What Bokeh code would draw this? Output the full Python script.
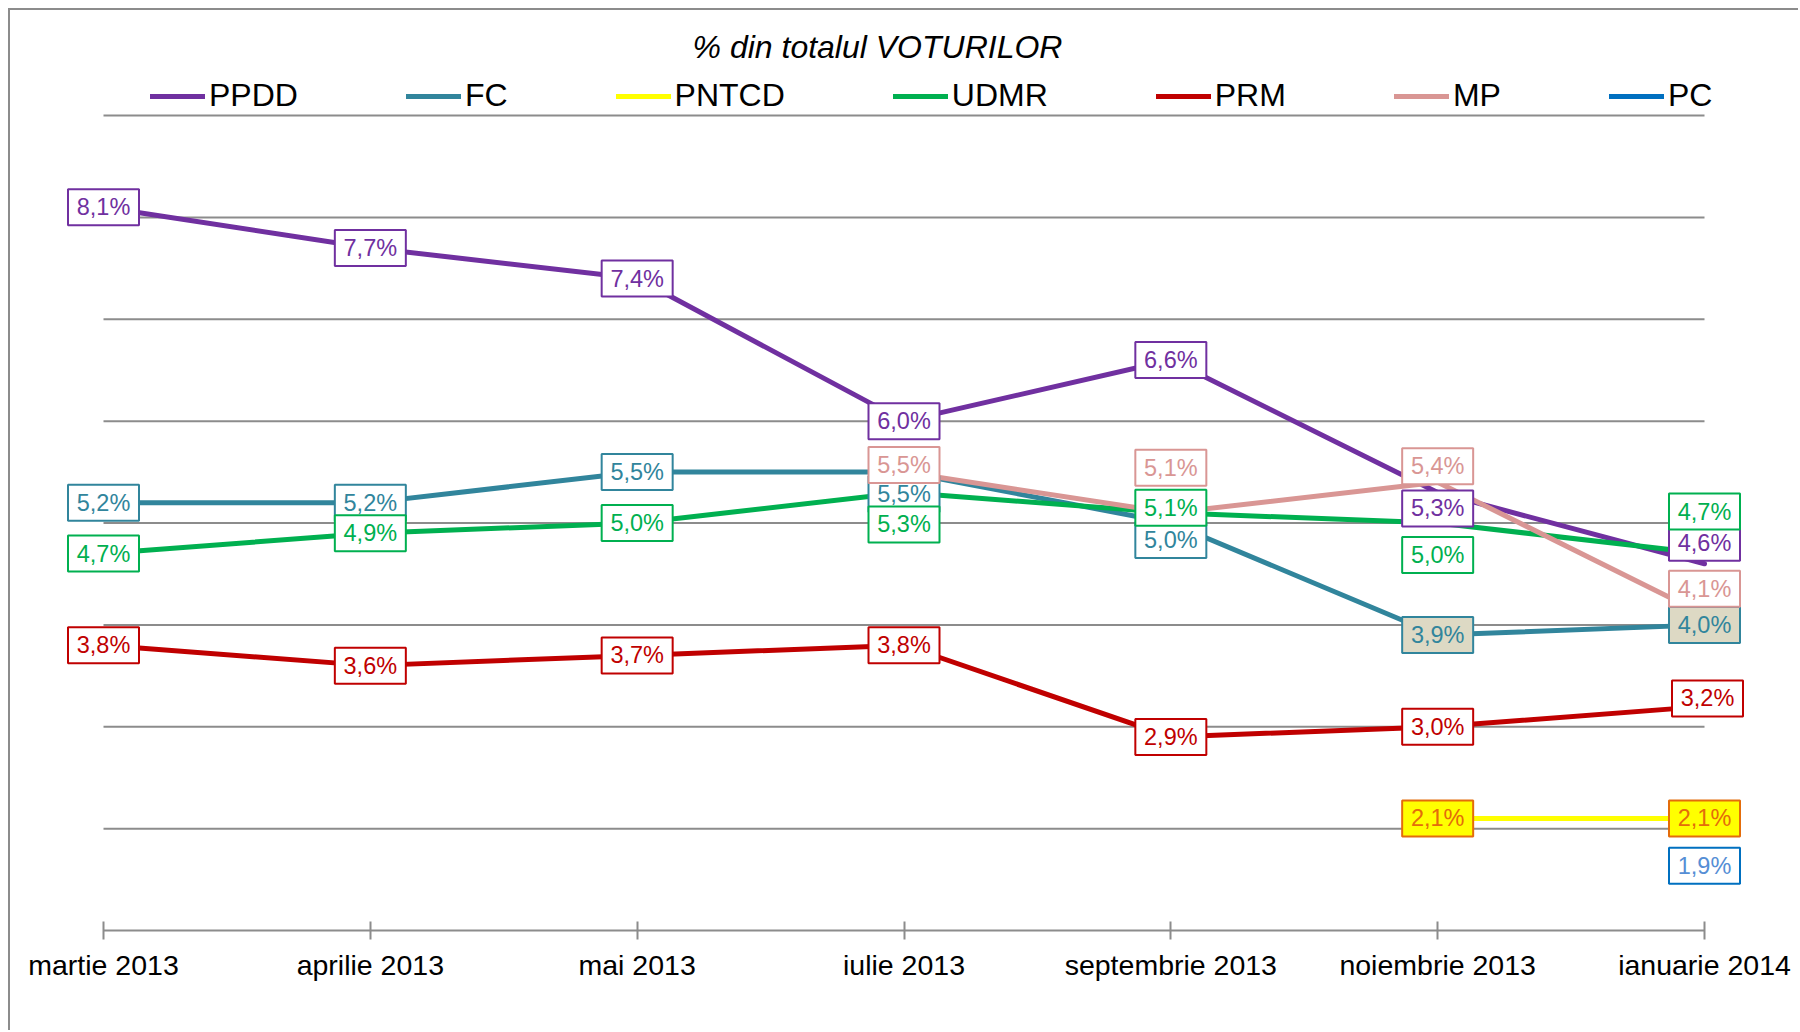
import math
from bokeh.plotting import figure
from bokeh.models import Range1d, FixedTicker, Legend, LegendItem, Label, ColumnDataSource
from bokeh.embed import file_html
from bokeh.resources import INLINE
from bokeh.core.properties import value

# ---------------- data ----------------
months = ["martie 2013", "aprilie 2013", "mai 2013", "iulie 2013",
          "septembrie 2013", "noiembrie 2013", "ianuarie 2014"]
series_names = ["PPDD", "FC", "PNTCD", "UDMR", "PRM", "MP", "PC"]
ppdd  = [8.1, 7.7, 7.4, 6.0, 6.6, 5.3, 4.6]
fc    = [5.2, 5.2, 5.5, 5.5, 5.0, 3.9, 4.0]
pntcd = [None, None, None, None, None, 2.1, 2.1]
udmr  = [4.7, 4.9, 5.0, 5.3, 5.1, 5.0, 4.7]
prm   = [3.8, 3.6, 3.7, 3.8, 2.9, 3.0, 3.2]
mp    = [None, None, None, 5.5, 5.1, 5.4, 4.1]
pc    = [None, None, None, None, None, None, 1.9]
grid_values = [2, 3, 4, 5, 6, 7, 8, 9]
title_text = "% din totalul VOTURILOR"

series_values = [ppdd, fc, pntcd, udmr, prm, mp, pc]

# ---------------- styles ----------------
line_color = {"PPDD": "#7030A0", "FC": "#31859C", "PNTCD": "#FFFF00", "UDMR": "#00B050",
              "PRM": "#C00000", "MP": "#D99694", "PC": "#0070C0"}
text_color = {"PPDD": "#7030A0", "FC": "#31859C", "PNTCD": "#E46C0A", "UDMR": "#00B050",
              "PRM": "#C00000", "MP": "#D99694", "PC": "#558ED5"}
border_color = {"PPDD": "#7030A0", "FC": "#31859C", "PNTCD": "#E46C0A", "UDMR": "#00B050",
                "PRM": "#C00000", "MP": "#D99694", "PC": "#0070C0"}
fill_color = {"PPDD": ["white"] * 7, "FC": ["white"] * 5 + ["#DDD9C4"] * 2,
              "PNTCD": ["#FFFF00"] * 7, "UDMR": ["white"] * 7, "PRM": ["white"] * 7,
              "MP": ["white"] * 7, "PC": ["white"] * 7}
# label placement offsets in screen px (positive = down / right)
label_dy = {"PPDD": [0, 0, 0, 0, 0, 16, -21],
            "FC": [0, 0, 0, 22, 17, 0, 0],
            "PNTCD": [0] * 7,
            "UDMR": [0, 0, 0, 32, -5, 32, -42],
            "PRM": [0, 0, 0, 0, 0, 0, -8],
            "MP": [0, 0, 0, -7, -45, -16, -26],
            "PC": [0, 0, 0, 0, 0, 0, 27]}
label_dx = {"PRM": [0, 0, 0, 0, 0, 0, 3]}

FONT = "Liberation Sans"
W, H = 1790, 1022
# canvas geometry (px)
X_FIRST, X_LAST = 93, 1694        # first / last category positions
Y_BOTTOM_PX, Y_TOP_PX = 920, 105  # positions of 1% and 9%
FL, FR, FT, FB = 2, 2, 2, 102     # frame borders
ppx = (X_LAST - X_FIRST) / (len(months) - 1)
ppy = (Y_BOTTOM_PX - Y_TOP_PX) / 8.0
x_start = -(X_FIRST - FL) / ppx
x_end = (len(months) - 1) + ((W - FR) - X_LAST) / ppx
y_start = 1.0
y_end = 1.0 + (Y_BOTTOM_PX - FT) / ppy

p = figure(width=W, height=H, output_backend="svg", toolbar_location=None,
           x_range=Range1d(x_start, x_end), y_range=Range1d(y_start, y_end),
           y_axis_location=None, min_border_left=FL, min_border_right=FR,
           min_border_top=FT, min_border_bottom=FB)
p.styles = {"margin-left": "8px", "margin-top": "8px",
            "border-left": "2px solid #8c8c8c", "border-top": "2px solid #8c8c8c"}
p.outline_line_color = None
p.xgrid.visible = False
p.ygrid.visible = False
p.background_fill_color = "white"
p.border_fill_color = "white"

# gridlines limited to the category span
p.segment(x0=[0] * len(grid_values), x1=[len(months) - 1] * len(grid_values),
          y0=grid_values, y1=grid_values, line_color="#8c8c8c", line_width=2)

# x axis
ax = p.xaxis[0]
ax.ticker = FixedTicker(ticks=list(range(len(months))))
ax.major_label_overrides = {i: m for i, m in enumerate(months)}
ax.bounds = (0, len(months) - 1)
ax.axis_line_color = "#8c8c8c"
ax.axis_line_width = 2
ax.major_tick_line_color = "#8c8c8c"
ax.major_tick_line_width = 2
ax.major_tick_in = 9
ax.major_tick_out = 9
ax.minor_tick_line_color = None
ax.major_label_text_font = FONT
ax.major_label_text_font_size = "28.5px"
ax.major_label_text_color = "black"
ax.major_label_standoff = 9

# lines
renderers = {}
for name, vals in zip(series_names, series_values):
    xs = list(range(len(months)))
    ys = [float("nan") if v is None else v for v in vals]
    r = p.line(xs, ys, line_color=line_color[name], line_width=5,
               line_join="round", line_cap="round")
    renderers[name] = r

# data labels
for name, vals in zip(series_names, series_values):
    xs, ys, texts, fills = [], [], [], []
    dxs = label_dx.get(name, [0] * 7)
    for i, v in enumerate(vals):
        if v is None:
            continue
        xs.append(i + dxs[i] / ppx)
        ys.append(v - label_dy[name][i] / ppy)
        texts.append(f"{v:.1f}".replace(".", ",") + "%")
        fills.append(fill_color[name][i])
    src = ColumnDataSource(dict(x=xs, y=ys, text=texts, fill=fills))
    p.rect(x="x", y="y", width=71, height=36, width_units="screen", height_units="screen",
           source=src, fill_color="fill", line_color=border_color[name], line_width=2)
    p.text(x="x", y="y", text="text", source=src, text_align="center", text_baseline="middle",
           text_font=value(FONT), text_font_size="23.5px", text_color=text_color[name])

# title
p.add_layout(Label(x=865, y=884, x_units="screen", y_units="screen", text=title_text,
                   text_font=FONT, text_font_size="32px", text_font_style="italic",
                   text_align="center", text_baseline="middle", text_color="black"))

# legend
legend = Legend(items=[LegendItem(label=n, renderers=[renderers[n]]) for n in series_names],
                orientation="horizontal", location=(138, 816), spacing=108,
                glyph_width=55, glyph_height=20, label_standoff=4,
                label_text_font=FONT, label_text_font_size="32px", label_text_color="black",
                padding=0, margin=0, border_line_color=None, background_fill_alpha=0)
p.add_layout(legend, "center")

open("out.html", "w").write(file_html(p, INLINE))
